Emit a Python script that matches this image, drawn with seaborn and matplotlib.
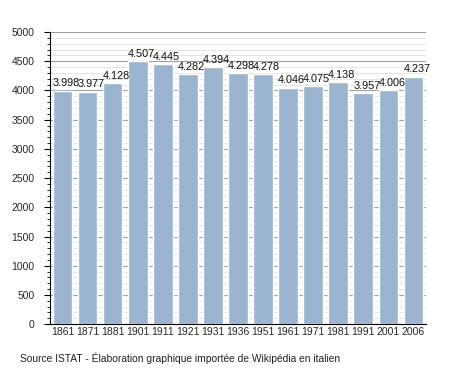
import pandas as pd
import matplotlib
matplotlib.use("Agg")
import matplotlib.pyplot as plt
import seaborn as sns
from matplotlib.ticker import MultipleLocator

# Population data (ISTAT)
years = ["1861", "1871", "1881", "1901", "1911", "1921", "1931", "1936",
         "1951", "1961", "1971", "1981", "1991", "2001", "2006"]
population = [3998, 3977, 4128, 4507, 4445, 4282, 4394, 4298,
              4278, 4046, 4075, 4138, 3957, 4006, 4237]

df = pd.DataFrame({"year": years, "pop": population})

sns.set_style("white")
plt.rcParams['font.family'] = ['Liberation Sans', 'DejaVu Sans']

fig = plt.figure(figsize=(4.55, 3.73), dpi=100)
ax = fig.add_axes([0.11, 0.131, 0.826, 0.783])

ax.set_axisbelow(True)
ax.yaxis.set_major_locator(MultipleLocator(500))
ax.yaxis.set_minor_locator(MultipleLocator(100))
ax.grid(which='major', axis='y', color='#a0a0a0', linewidth=0.8)
ax.grid(which='minor', axis='y', color='#e0e0e0', linewidth=0.6)

sns.barplot(data=df, x="year", y="pop", color="#9bb4d0", saturation=1,
            width=0.78, ax=ax)

for i, v in enumerate(population):
    ax.text(i - 0.4, v + 40, "{:,}".format(v).replace(",", "."),
            ha='left', va='bottom', fontsize=7.8, color='#111111')

ax.set_ylim(0, 5000)
ax.set_xlim(-0.5, len(years) - 0.5)
ax.set_xlabel("")
ax.set_ylabel("")
for s in ["top", "right"]:
    ax.spines[s].set_visible(False)
ax.spines["left"].set_color("black")
ax.spines["bottom"].set_color("black")
ax.tick_params(axis='y', which='major', length=4, left=True, labelsize=7.5,
               color='black', pad=7)
ax.tick_params(axis='y', which='minor', length=2.5, left=True, color='black')
ax.tick_params(axis='x', length=0, labelsize=7.5, pad=2)

fig.text(0.044, 0.03, "Source ISTAT - Élaboration graphique importée de Wikipédia en italien",
         fontsize=7.4, ha='left', color='#222222')

fig.savefig("out.png", dpi=100)
